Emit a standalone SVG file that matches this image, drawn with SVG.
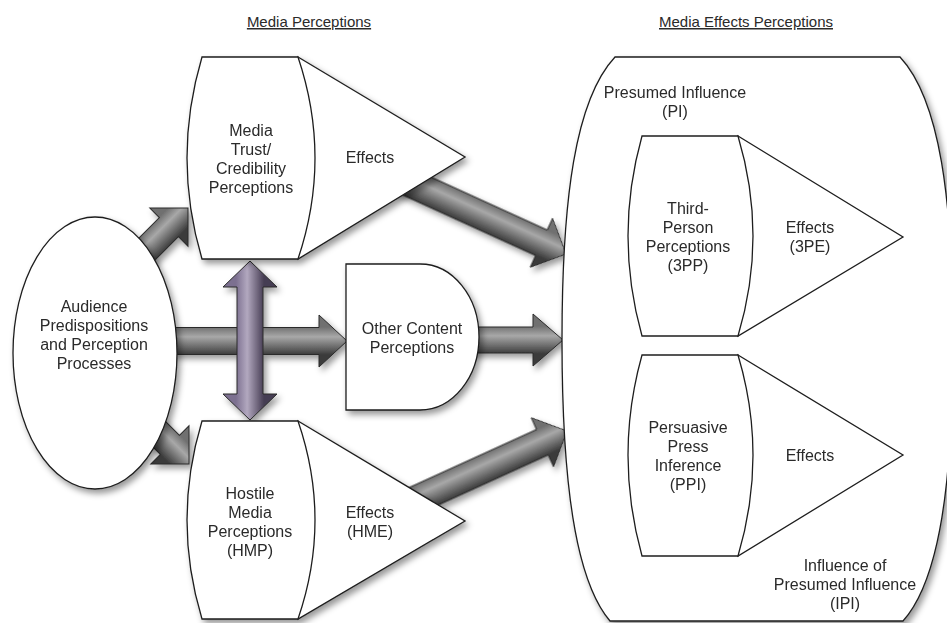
<svg xmlns="http://www.w3.org/2000/svg" width="947" height="623" viewBox="0 0 947 623">
<defs>
<style>
.shape{fill:#ffffff;stroke:#1e1e1e;stroke-width:1.3}
.txt{font-family:"Liberation Sans",Arial,sans-serif;font-size:16px;fill:#2a2a2a;text-anchor:middle}
.head{font-family:"Liberation Sans",Arial,sans-serif;font-size:15px;fill:#2a2a2a;text-anchor:middle;text-decoration:underline}
.arr{fill:url(#gray);stroke:#2a2a2a;stroke-width:1}
.darr{fill:url(#purple);stroke:#2a2a2a;stroke-width:1}
</style>
<linearGradient id="gray" gradientUnits="userSpaceOnUse" x1="0" y1="-14" x2="0" y2="14">
<stop offset="0" stop-color="#707070"/>
<stop offset="0.35" stop-color="#a8a8a8"/>
<stop offset="1" stop-color="#3a3a3a"/>
</linearGradient>
<linearGradient id="purple" gradientUnits="userSpaceOnUse" x1="-14" y1="0" x2="14" y2="0">
<stop offset="0" stop-color="#7c7090"/>
<stop offset="0.4" stop-color="#b2a8bf"/>
<stop offset="1" stop-color="#453c52"/>
</linearGradient>
<filter id="sh" x="-20%" y="-20%" width="140%" height="140%">
<feDropShadow dx="3" dy="4" stdDeviation="3" flood-color="#000" flood-opacity="0.4"/>
</filter>
</defs>
<rect width="947" height="623" fill="#ffffff"/>

<text class="head" x="309" y="27">Media Perceptions</text>
<text class="head" x="746" y="27">Media Effects Perceptions</text>

<g id="connectors" filter="url(#sh)">
<path class="arr" transform="translate(188,208) rotate(-45)" d="M-85,-13.5 L-27,-13.5 L-27,-27 L0,0 L-27,27 L-27,13.5 L-85,13.5 Z"/>
<path class="arr" transform="translate(189,464) rotate(45)" d="M-85,-13.5 L-27,-13.5 L-27,-27 L0,0 L-27,27 L-27,13.5 L-85,13.5 Z"/>
<path class="arr" transform="translate(347,341)" d="M-175,-13.5 L-28,-13.5 L-28,-26 L0,0 L-28,26 L-28,13.5 L-175,13.5 Z"/>
<path class="arr" transform="translate(563,340)" d="M-95,-13 L-30,-13 L-30,-26 L0,0 L-30,26 L-30,13 L-95,13 Z"/>
<path class="arr" transform="translate(566,254) rotate(24.5)" d="M-185,-14 L-27,-14 L-27,-27 L0,0 L-27,27 L-27,14 L-185,14 Z"/>
<path class="arr" transform="translate(567,431) rotate(-24.5)" d="M-185,-14 L-27,-14 L-27,-27 L0,0 L-27,27 L-27,14 L-185,14 Z"/>
<path class="darr" transform="translate(250,0)" d="M0,261 L27,287 L13,287 L13,394 L27,394 L0,420 L-27,394 L-13,394 L-13,287 L-27,287 Z"/>
</g>

<g id="presumed-influence" filter="url(#sh)">
<path class="shape" d="M615,57 L900,57 C940,100 953,200 953,340 C953,480 940,580 903,621 L610,621 C575,580 562,480 562,340 C562,200 575,100 615,57 Z"/>
</g>
<text class="txt" x="675" y="98">Presumed Influence</text>
<text class="txt" x="675" y="117">(PI)</text>
<text class="txt" x="845" y="571">Influence of</text>
<text class="txt" x="845" y="590">Presumed Influence</text>
<text class="txt" x="845" y="609">(IPI)</text>

<g id="audience">
<ellipse class="shape" cx="95" cy="353" rx="82" ry="136" filter="url(#sh)"/>
<text class="txt" x="94" y="312">Audience</text>
<text class="txt" x="94" y="331">Predispositions</text>
<text class="txt" x="94" y="350">and Perception</text>
<text class="txt" x="94" y="369">Processes</text>
</g>

<g id="media-trust">
<g filter="url(#sh)">
<path class="shape" d="M298,57 L465,157 L298,259 Z"/>
<path class="shape" d="M202,57 L298,57 Q332,158 298,259 L202,259 Q172,158 202,57 Z"/>
</g>
<text class="txt" x="251" y="136">Media</text>
<text class="txt" x="251" y="155">Trust/</text>
<text class="txt" x="251" y="174">Credibility</text>
<text class="txt" x="251" y="193">Perceptions</text>
<text class="txt" x="370" y="163">Effects</text>
</g>

<g id="other-content">
<path class="shape" filter="url(#sh)" d="M346,264 H420 A59,73 0 0 1 479,337 A59,73 0 0 1 420,410 H346 Z"/>
<text class="txt" x="412" y="334">Other Content</text>
<text class="txt" x="412" y="353">Perceptions</text>
</g>

<g id="hostile-media">
<g filter="url(#sh)">
<path class="shape" d="M298,421 L465,521 L298,619 Z"/>
<path class="shape" d="M202,421 L298,421 Q332,520 298,619 L202,619 Q172,520 202,421 Z"/>
</g>
<text class="txt" x="250" y="499">Hostile</text>
<text class="txt" x="250" y="518">Media</text>
<text class="txt" x="250" y="537">Perceptions</text>
<text class="txt" x="250" y="556">(HMP)</text>
<text class="txt" x="370" y="518">Effects</text>
<text class="txt" x="370" y="537">(HME)</text>
</g>

<g id="third-person">
<path class="shape" d="M738,136 L903,237 L738,336 Z"/>
<path class="shape" d="M642,136 L738,136 Q768,236 738,336 L642,336 Q614,236 642,136 Z"/>
<text class="txt" x="688" y="214">Third-</text>
<text class="txt" x="688" y="233">Person</text>
<text class="txt" x="688" y="252">Perceptions</text>
<text class="txt" x="688" y="271">(3PP)</text>
<text class="txt" x="810" y="233">Effects</text>
<text class="txt" x="810" y="252">(3PE)</text>
</g>

<g id="persuasive-press">
<path class="shape" d="M738,355 L903,455 L738,556 Z"/>
<path class="shape" d="M642,355 L738,355 Q768,455 738,556 L642,556 Q614,455 642,355 Z"/>
<text class="txt" x="688" y="433">Persuasive</text>
<text class="txt" x="688" y="452">Press</text>
<text class="txt" x="688" y="471">Inference</text>
<text class="txt" x="688" y="490">(PPI)</text>
<text class="txt" x="810" y="461">Effects</text>
</g>
</svg>
